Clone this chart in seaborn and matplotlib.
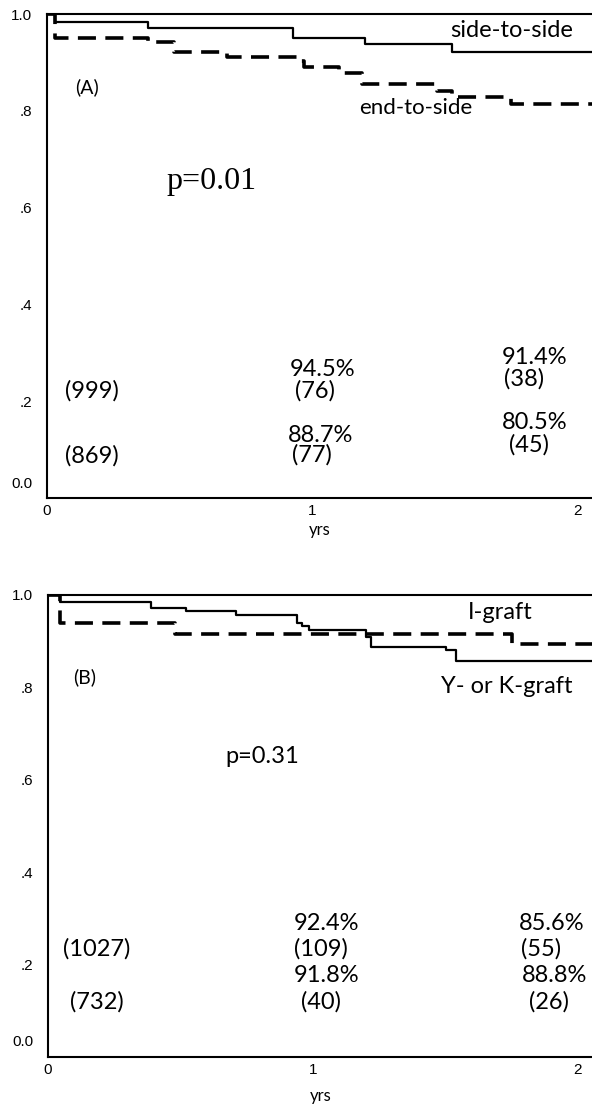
import matplotlib
matplotlib.use("Agg")
import matplotlib.pyplot as plt
import matplotlib.transforms as mtransforms
import seaborn as sns
import pandas as pd

# ---------------- data ----------------
# Panel A : side-to-side (solid) vs end-to-side (dashed)
a_side_t = [0, 0.03, 0.38, 0.93, 1.20, 1.53, 2.2]
a_side_s = [1.0, 0.983, 0.972, 0.950, 0.938, 0.922, 0.922]
a_end_t = [0, 0.03, 0.38, 0.48, 0.68, 0.95, 0.97, 1.10, 1.19, 1.47, 1.53, 1.75, 2.2]
a_end_s = [1.0, 0.950, 0.943, 0.921, 0.912, 0.903, 0.890, 0.879, 0.855, 0.841, 0.828, 0.814, 0.814]

# Panel B : I-graft (solid) vs Y- or K-graft (dashed)
b_i_t = [0, 0.045, 0.39, 0.52, 0.71, 0.94, 0.96, 0.985, 1.20, 1.22, 1.50, 1.54, 2.2]
b_i_s = [1.0, 0.985, 0.971, 0.965, 0.957, 0.939, 0.933, 0.924, 0.910, 0.888, 0.881, 0.858, 0.858]
b_yk_t = [0, 0.045, 0.48, 1.75, 2.2]
b_yk_s = [1.0, 0.939, 0.915, 0.894, 0.894]

x_ticks = [0, 1, 2]
x_tick_labels = ["0", "1", "2"]
y_ticks = [0.0, 0.2, 0.4, 0.6, 0.8, 1.0]
y_tick_labels = ["0.0", ".2", ".4", ".6", ".8", "1.0"]

a_counts = ["(999)", "(869)"]
a_pct_1y = ["94.5%", "88.7%"]
a_n_1y = ["(76)", "(77)"]
a_pct_2y = ["91.4%", "80.5%"]
a_n_2y = ["(38)", "(45)"]

b_counts = ["(1027)", "(732)"]
b_pct_1y = ["92.4%", "91.8%"]
b_n_1y = ["(109)", "(40)"]
b_pct_2y = ["85.6%", "88.8%"]
b_n_2y = ["(55)", "(26)"]

# ---------------- style ----------------
sns.set_theme(style="white")
plt.rcParams["font.family"] = ["Lato", "DejaVu Sans"]
plt.rcParams["axes.linewidth"] = 1.5
plt.rcParams["text.color"] = "black"
plt.rcParams["axes.labelcolor"] = "black"
plt.rcParams["xtick.color"] = "black"
plt.rcParams["ytick.color"] = "black"
plt.rcParams["axes.edgecolor"] = "black"

fig = plt.figure(figsize=(5.92, 11.04), dpi=100)
axA = fig.add_axes([47 / 592, 606 / 1104, 573 / 592, 484 / 1104])
axB = fig.add_axes([48 / 592, 47 / 1104, 573 / 592, 462 / 1104])

XMAX = 573 / 265


def draw_curve(ax, t, s, dashed):
    df = pd.DataFrame({"t": t, "s": s})
    if dashed:
        sns.lineplot(data=df, x="t", y="s", ax=ax, color="black", estimator=None,
                     drawstyle="steps-post", linewidth=2.6, linestyle=(0, (5, 2.6)))
    else:
        sns.lineplot(data=df, x="t", y="s", ax=ax, color="black", estimator=None,
                     drawstyle="steps-post", linewidth=1.6)


def style_axes(ax, label_y, zero_shift_px):
    ax.set_xlim(0, XMAX)
    ax.set_ylim(0, 1.0)
    ax.set_xticks(x_ticks)
    ax.set_xticklabels(x_tick_labels, fontsize=11, family=["Liberation Sans"])
    ax.set_yticks(y_ticks)
    ax.set_yticklabels(y_tick_labels, fontsize=11, family=["Liberation Sans"])
    ax.tick_params(axis="both", direction="out", length=2.5, width=1.2, color="black",
                   labelcolor="black")
    ax.tick_params(axis="y", pad=8)
    ax.tick_params(axis="x", pad=2)
    for sp in ["left", "bottom", "top"]:
        ax.spines[sp].set_visible(True)
        ax.spines[sp].set_color("black")
    ax.spines["right"].set_visible(False)
    ax.set_ylabel("")
    ax.set_xlabel("yrs", fontsize=12, color="black")
    ax.xaxis.set_label_coords(0.476, label_y)
    # the "0.0" label sits a little above the origin, as in the original
    lab0 = ax.get_yticklabels()[0]
    lab0.set_transform(lab0.get_transform() +
                       mtransforms.ScaledTranslation(0, zero_shift_px / 100, fig.dpi_scale_trans))


fs = 17

# ---------------- Panel A ----------------
draw_curve(axA, a_side_t, a_side_s, False)
draw_curve(axA, a_end_t, a_end_s, True)
style_axes(axA, -0.05, 15)

axA.text(1.755, 0.965, "side-to-side", fontsize=fs, ha="center", va="center")
axA.text(0.15, 0.849, "(A)", fontsize=14, ha="center", va="center")
axA.text(1.39, 0.805, "end-to-side", fontsize=16, ha="center", va="center")
axA.text(0.62, 0.654, "p=0.01", fontsize=23, ha="center", va="center",
         family=["Liberation Serif"])

axA.text(0.17, 0.222, a_counts[0], fontsize=fs, ha="center", va="center")
axA.text(0.17, 0.087, a_counts[1], fontsize=fs, ha="center", va="center")
axA.text(1.04, 0.265, a_pct_1y[0], fontsize=fs, ha="center", va="center")
axA.text(1.01, 0.222, a_n_1y[0], fontsize=fs, ha="center", va="center")
axA.text(1.034, 0.130, a_pct_1y[1], fontsize=fs, ha="center", va="center")
axA.text(1.0, 0.089, a_n_1y[1], fontsize=fs, ha="center", va="center")
axA.text(1.84, 0.290, a_pct_2y[0], fontsize=fs, ha="center", va="center")
axA.text(1.80, 0.246, a_n_2y[0], fontsize=fs, ha="center", va="center")
axA.text(1.84, 0.155, a_pct_2y[1], fontsize=fs, ha="center", va="center")
axA.text(1.82, 0.110, a_n_2y[1], fontsize=fs, ha="center", va="center")

# ---------------- Panel B ----------------
draw_curve(axB, b_i_t, b_i_s, False)
draw_curve(axB, b_yk_t, b_yk_s, True)
style_axes(axB, -0.067, 17)

axB.text(1.706, 0.963, "I-graft", fontsize=fs, ha="center", va="center")
axB.text(0.14, 0.823, "(B)", fontsize=14, ha="center", va="center")
axB.text(1.73, 0.802, "Y- or K-graft", fontsize=fs, ha="center", va="center")
axB.text(0.81, 0.65, "p=0.31", fontsize=17, ha="center", va="center")

axB.text(0.185, 0.234, b_counts[0], fontsize=fs, ha="center", va="center")
axB.text(0.185, 0.119, b_counts[1], fontsize=fs, ha="center", va="center")
axB.text(1.05, 0.290, b_pct_1y[0], fontsize=fs, ha="center", va="center")
axB.text(1.03, 0.234, b_n_1y[0], fontsize=fs, ha="center", va="center")
axB.text(1.05, 0.177, b_pct_1y[1], fontsize=fs, ha="center", va="center")
axB.text(1.03, 0.119, b_n_1y[1], fontsize=fs, ha="center", va="center")
axB.text(1.90, 0.290, b_pct_2y[0], fontsize=fs, ha="center", va="center")
axB.text(1.86, 0.234, b_n_2y[0], fontsize=fs, ha="center", va="center")
axB.text(1.91, 0.177, b_pct_2y[1], fontsize=fs, ha="center", va="center")
axB.text(1.89, 0.119, b_n_2y[1], fontsize=fs, ha="center", va="center")

fig.savefig("out.png", dpi=100)
